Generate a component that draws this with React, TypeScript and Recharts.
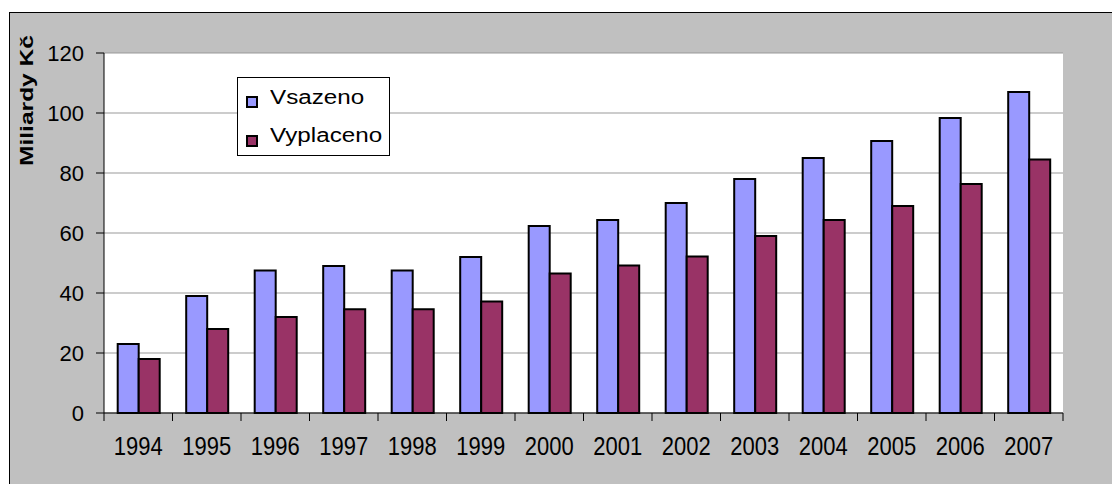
import React from "react";
import { Bar, BarChart, CartesianGrid, Legend, XAxis, YAxis } from "recharts";

const years = ["1994", "1995", "1996", "1997", "1998", "1999", "2000", "2001", "2002", "2003", "2004", "2005", "2006", "2007"];
const vsazeno = [23, 39, 47.5, 49, 47.5, 52, 62.3, 64.3, 70, 78, 85, 90.7, 98.3, 107];
const vyplaceno = [18, 28, 32, 34.6, 34.6, 37.2, 46.5, 49.2, 52.2, 59, 64.3, 69, 76.3, 84.5];
const yTicks = [0, 20, 40, 60, 80, 100, 120];

const data = years.map((year, i) => ({
  year,
  Vsazeno: vsazeno[i],
  Vyplaceno: vyplaceno[i],
}));

const FONT = "'Liberation Sans', Arial, sans-serif";
const X_TICK = 8;
const X_MARGIN = 0;

const YearTick = (props: any) => {
  const { x, y, payload, index, visibleTicksCount } = props;
  const off = payload.offset ?? 0;
  const axisY = y - X_TICK - X_MARGIN;
  const last = index === visibleTicksCount - 1;
  return (
    <g>
      <line x1={x - off} x2={x - off} y1={axisY} y2={axisY + X_TICK} stroke="#000" />
      {last && <line x1={x + off} x2={x + off} y1={axisY} y2={axisY + X_TICK} stroke="#000" />}
      <text
        transform={`translate(${x},${axisY + 42}) scale(1,1.18)`}
        textAnchor="middle"
        fontSize={22}
        fontFamily={FONT}
        fill="#000"
      >
        {payload.value}
      </text>
    </g>
  );
};

const LegendBox = ({ payload }: any) => (
  <div
    style={{
      width: 153,
      height: 79,
      boxSizing: "border-box",
      border: "1px solid #000",
      background: "#fff",
      position: "relative",
      fontFamily: FONT,
    }}
  >
    {(payload || []).map((p: any, i: number) => (
      <React.Fragment key={p.value}>
        <div
          style={{
            position: "absolute",
            left: 8,
            top: i === 0 ? 18 : 57,
            width: 12,
            height: 12,
            boxSizing: "border-box",
            border: "2px solid #000",
            background: p.color,
          }}
        />
        <span
          style={{
            position: "absolute",
            left: 32,
            top: i === 0 ? 9 : 47,
            fontSize: 20,
            lineHeight: "20px",
            whiteSpace: "nowrap",
            transform: "scaleX(1.21)",
            transformOrigin: "left center",
            color: "#000",
          }}
        >
          {p.value}
        </span>
      </React.Fragment>
    ))}
  </div>
);

const AxisTitle = () => (
  <text
    transform="translate(33,100.5) rotate(-90)"
    textAnchor="middle"
    fontSize={19}
    fontWeight="bold"
    fontFamily={FONT}
    fill="#000"
    textLength={131}
    lengthAdjust="spacingAndGlyphs"
  >
    Miliardy Kč
  </text>
);

export default function App() {
  return (
    <div
      style={{
        position: "absolute",
        left: 0,
        top: 0,
        width: 1112,
        height: 484,
        overflow: "hidden",
        background: "#fff",
      }}
    >
      <div
        style={{
          position: "absolute",
          left: 9,
          top: 12,
          width: 1200,
          height: 600,
          background: "#c0c0c0",
          borderLeft: "1px solid #000",
          borderTop: "1px solid #000",
        }}
      />
      <div style={{ position: "absolute", left: 0, top: 0 }}>
        <BarChart
          width={1112}
          height={484}
          data={data}
          margin={{ top: 53, right: 49, bottom: 31, left: 44 }}
          barCategoryGap="20%"
          barGap={0}
        >
          <CartesianGrid vertical={false} stroke="#999" fill="#fff" />
          <XAxis
            dataKey="year"
            height={40}
            axisLine={{ stroke: "#000" }}
            tickLine={false}
            tickSize={X_TICK}
            tickMargin={X_MARGIN}
            tick={<YearTick />}
            interval={0}
          />
          <YAxis
            width={60}
            domain={[0, 120]}
            ticks={yTicks}
            axisLine={{ stroke: "#000" }}
            tickLine={{ stroke: "#000" }}
            tickSize={8}
            tickMargin={12}
            tick={{ fill: "#000", fontSize: 22, fontFamily: FONT }}
            label={{ content: () => <AxisTitle /> }}
          />
          <Legend
            layout="horizontal"
            verticalAlign="middle"
            align="center"
            wrapperStyle={{ left: 237, top: 77, width: 153, height: 79 }}
            content={<LegendBox />}
          />
          <Bar dataKey="Vsazeno" fill="#9999ff" stroke="#000" strokeWidth={2} isAnimationActive={false} />
          <Bar dataKey="Vyplaceno" fill="#993366" stroke="#000" strokeWidth={2} isAnimationActive={false} />
        </BarChart>
      </div>
    </div>
  );
}
